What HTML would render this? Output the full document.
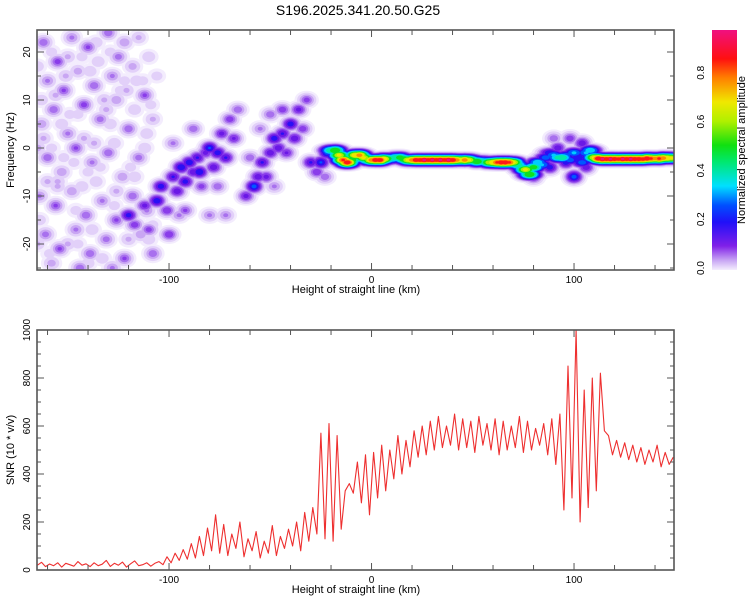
<!DOCTYPE html>
<html><head><meta charset="utf-8"><style>
html,body{margin:0;padding:0;background:#fff;}
svg{display:block;font-family:"Liberation Sans",sans-serif;}
</style></head><body>
<svg id="chart" width="750" height="600" viewBox="0 0 750 600">
<defs>
<clipPath id="clipTop"><rect x="37" y="30" width="637" height="240"/></clipPath>
<clipPath id="clipBot"><rect x="37" y="330" width="637" height="240"/></clipPath>
<linearGradient id="cbGrad" x1="0" y1="1" x2="0" y2="0">
<stop offset="0" stop-color="#f4eefd"/><stop offset="0.04" stop-color="#c8a6f4"/><stop offset="0.1" stop-color="#8020e8"/>
<stop offset="0.2" stop-color="#2010f8"/><stop offset="0.27" stop-color="#0050ff"/><stop offset="0.35" stop-color="#00e0ff"/>
<stop offset="0.45" stop-color="#00e870"/><stop offset="0.52" stop-color="#10e010"/><stop offset="0.62" stop-color="#b0f000"/>
<stop offset="0.7" stop-color="#f0e800"/><stop offset="0.8" stop-color="#ff8000"/><stop offset="0.88" stop-color="#ff1010"/>
<stop offset="1" stop-color="#f01080"/>
</linearGradient>
</defs>
<text x="358" y="15" font-size="14" text-anchor="middle">S196.2025.341.20.50.G25</text>
<g id="heat" clip-path="url(#clipTop)"></g>
<g id="snr" clip-path="url(#clipBot)"></g>
<g id="axes"></g>
<rect x="712" y="30" width="25" height="240" fill="url(#cbGrad)"/>
<text transform="translate(745,150) rotate(-90)" font-size="11" text-anchor="middle">Normalized spectral amplitude</text>
<text transform="translate(14,150) rotate(-90)" font-size="11" text-anchor="middle">Frequency (Hz)</text>
<text transform="translate(14,450) rotate(-90)" font-size="11" text-anchor="middle">SNR (10 * v/v)</text>
<text x="356" y="293" font-size="11" text-anchor="middle">Height of straight line (km)</text>
<text x="356" y="593" font-size="11" text-anchor="middle">Height of straight line (km)</text>
</svg>
<script>
// ---- data ----
const noiseKm=[-162,-155,-148,-140,-130,-122,-115,-160,-152,-145,-137,-128,-118,-110,-163,-157,-150,-142,-134,-126,-120,-112,-108,-160,-153,-146,-138,-130,-123,-115,-164,-156,-148,-141,-133,-126,-118,-111,-161,-154,-146,-139,-131,-122,-114,-108,-158,-144,-128,-150,-135,-125,-142,-127,-155,-136,-120,-133,-165,-165,-117,-132,-145,-158,-122,-112,-105,-106,-145,-140,
-165,-158,-151,-143,-136,-129,-121,-113,-163,-156,-149,-139,-131,-124,-116,-109,-162,-153,-147,-137,-129,-119,-111,-160,-152,-143,-134,-126,-117,-108,-164,-155,-146,-138,-127,-119,-110,-159,-150,-140];
const noiseHz=[22,18,23,21,24,22,23,14,12,16,13,15,17,19,5,8,3,9,6,10,4,11,6,-2,-5,0,-3,-1,-6,-2,-10,-12,-9,-14,-11,-15,-10,-13,-18,-21,-17,-22,-19,-23,-18,-22,-24,-25,-25,19,18,19,2,1,-8,-7,-19,-23,0,-20,8,10,-20,0,14,0,-8,15,7,-5,
17,20,15,19,22,20,12,14,10,11,7,16,8,12,14,9,2,5,-3,1,5,-4,3,-7,-2,-8,-4,-9,-6,-16,-15,-7,-13,-17,-12,-14,-19,-22,-20,-24];
const noiseAmp=[.12,.14,.10,.13,.12,.09,.07,.10,.13,.08,.12,.10,.08,.06,.09,.12,.10,.14,.11,.09,.12,.13,.07,.12,.09,.13,.10,.12,.09,.11,.10,.13,.09,.12,.10,.13,.12,.10,.11,.13,.10,.12,.11,.13,.09,.12,.08,.12,.10,.07,.06,.11,.07,.06,.07,.06,.07,.06,.08,.07,.06,.07,.05,.05,.05,.06,.05,.05,.05,.05,
.06,.05,.07,.05,.06,.05,.07,.05,.06,.07,.05,.06,.07,.05,.06,.05,.07,.06,.05,.07,.06,.05,.06,.07,.05,.06,.05,.07,.06,.05,.06,.07,.05,.06,.05,.07,.06,.05,.07,.06];
const blobKm=[-120,-117,-112,-110,-106,-104,-101,-100,-98,-96,-94,-92,-90,-88,-86,-85,-82,-80,-78,-76,-74,-72,-70,-68,-92,-84,-76,-98,-88,-66,-95,-80,
-62,-58,-56,-54,-52,-50,-48,-46,-44,-42,-40,-38,-36,-34,-32,-44,-50,-60,-55,-48,-72,
-30,-27,-25,-22,-23,
88,92,96,100,104,98,90,106,80];
const blobHz=[-14,-16,-12,-17,-11,-8,-13,-18,-6,-9,-4,-7,-3,-5,-2,-5,-1,0,-4,-1,3,-2,6,2,-13,-8,-8,1,4,8,-14,-14,
-10,-8,-6,-3,-6,-1,2,0,3,-1,5,2,8,4,10,8,7,-2,4,-8,-14,
-3,-5,-3,-1,-6,
-4,0,-3,-6,1,2,2,-4,-6];
const blobAmp=[.24,.15,.18,.14,.26,.25,.16,.16,.22,.2,.27,.24,.26,.2,.22,.27,.18,.28,.2,.25,.18,.22,.15,.17,.13,.14,.12,.1,.12,.12,.1,.1,
.18,.3,.2,.22,.18,.2,.25,.2,.22,.17,.25,.2,.18,.15,.14,.15,.12,.12,.1,.1,.1,
.22,.16,.28,.3,.12,
.25,.2,.25,.3,.2,.15,.12,.2,.2];
const ridgeKm=[-20,-18,-16,-14,-12,-10,-8,-6,-4,-2,0,2,4,6,8,10,12,14,16,18,20,22,24,26,28,30,32,34,36,38,40,42,44,46,48,50,52,54,56,58,60,62,64,66,68,70,72,74,76,78,80,82,84,86,88,90,92,94,96,98,100,102,104,106,108,110,112,114,116,118,120,122,124,126,128,130,132,134,136,138,140,142,144,146,148];
const ridgeHz=[-0.5,-0.5,-1.5,-2.5,-3,-2.5,-1.5,-1.5,-2,-2.5,-2.5,-2.5,-2.5,-2.3,-2.2,-2.2,-2,-2,-2.3,-2.5,-2.5,-2.5,-2.5,-2.5,-2.5,-2.5,-2.5,-2.5,-2.5,-2.5,-2.5,-2.5,-2.5,-2.5,-2.5,-2.6,-2.8,-2.8,-2.8,-3,-3,-3,-3,-3,-3,-3,-3.5,-4,-4.5,-5.5,-4,-3,-3.5,-2,-1,-1.5,-2,-2,-1.5,-2.5,-1,-2,-3,-1,-0.5,-2,-2.2,-2.3,-2.3,-2.3,-2.3,-2.3,-2.3,-2.3,-2.3,-2.3,-2.3,-2.3,-2.2,-2.2,-2.2,-2.2,-2.1,-2.1,-2.1];
const ridgeAmp=[.5,.6,.7,.85,.9,.6,.75,.8,.7,.55,.8,.9,.9,.75,.55,.45,.5,.55,.6,.7,.8,.9,.9,.92,.9,.92,.9,.92,.9,.92,.9,.8,.75,.8,.7,.55,.6,.5,.45,.65,.75,.85,.9,.9,.85,.7,.5,.45,.7,.6,.55,.4,.35,.3,.25,.35,.45,.5,.3,.3,.35,.25,.3,.35,.4,.7,.9,.92,.9,.92,.9,.88,.92,.9,.92,.9,.9,.88,.9,.85,.8,.85,.8,.75,.7];
const snrValues=[20,32,14,25,18,30,12,28,22,16,35,20,26,14,30,18,24,40,15,28,20,33,12,26,38,18,22,30,16,28,
35,22,55,30,70,40,85,45,
110,50,140,60,175,80,230,70,190,60,150,90,200,55,130,
80,160,50,120,70,185,60,140,90,170,
100,200,80,240,120,260,
150,570,130,610,120,560,170,
330,360,320,450,280,
480,230,490,300,
520,330,500,380,560,400,540,430,580,470,600,480,
620,500,640,510,600,520,650,500,630,510,620,490,640,520,610,500,630,480,620,500,600,510,640,490,620,500,590,520,610,480,630,440,
650,250,850,300,1000,200,750,260,800,330,820,580,
560,480,540,470,530,460,520,450,510,440,500,450,520,430,490,440,470];
const snrStartKm=-165, snrStepKm=2;
const xTicks=[-160,-140,-120,-100,-80,-60,-40,-20,0,20,40,60,80,100,120,140];
const xLabels=[-100,0,100];
const hzTicks=[-25,-20,-15,-10,-5,0,5,10,15,20];
const hzLabels=[-20,-10,0,10,20];
const snrTicks=[0,50,100,150,200,250,300,350,400,450,500,550,600,650,700,750,800,850,900,950,1000];
const snrLabels=[0,200,400,600,800,1000];
const cbLabels=[0.0,0.2,0.4,0.6,0.8];

// ---- scales ----
const NS='http://www.w3.org/2000/svg';
const L=37,R=674;
const xS=km=>L+(km+165.2)*2.025;
const yHz=hz=>148-hz*4.8;
const ySnr=v=>570-v*0.24;
const cbY=v=>268-v*244;
function mk(tag,attrs,parent){const e=document.createElementNS(NS,tag);for(const k in attrs)e.setAttribute(k,attrs[k]);parent.appendChild(e);return e;}

// ---- heatmap ----
const levels=[0.012,0.03,0.06,0.09,0.12,0.16,0.21,0.27,0.34,0.42,0.5,0.6,0.68,0.76,0.84,0.91];
const lvColors=['#f3ecfd','#e2d0f9','#c9a6f3','#a870ee','#8a3cea','#6a18e6','#2a10f4','#0058ff','#00ccff','#00eaa8','#10e020','#a8f000','#f0e400','#ff8a00','#ff1818','#f0107a'];
const heat=document.getElementById('heat');
const items=[];
for(let i=0;i<noiseKm.length;i++)items.push({km:noiseKm[i],hz:noiseHz[i],a:noiseAmp[i],sx:5.5,sy:4.5,b:0});
for(let i=0;i<blobKm.length;i++)items.push({km:blobKm[i],hz:blobHz[i],a:blobAmp[i],sx:5.5,sy:4.2,b:0});
for(let i=0;i<ridgeKm.length;i++)items.push({km:ridgeKm[i],hz:ridgeHz[i],a:ridgeAmp[i],sx:7,sy:3,b:0.8});
levels.forEach((lv,li)=>{
  items.forEach(it=>{
    if(it.a<=lv)return;
    const f=Math.sqrt(2*Math.log(it.a/lv));
    const e=mk('ellipse',{cx:xS(it.km),cy:yHz(it.hz),rx:it.sx*f+it.b,ry:it.sy*f+it.b,fill:lvColors[li]},heat);
    
    
  });
});

// ---- SNR line ----
const snr=document.getElementById('snr');
let d='';
snrValues.forEach((v,i)=>{const km=snrStartKm+i*snrStepKm;d+=(i?'L':'M')+xS(km).toFixed(1)+' '+ySnr(v).toFixed(1);});
const line=mk('path',{d:d,fill:'none',stroke:'#ee2f2f','stroke-width':1.1,'stroke-linejoin':'round'},snr);



// ---- axes ----
const ax=document.getElementById('axes');
function frame(T,B,name){const r=mk('rect',{x:L,y:T,width:R-L,height:B-T,fill:'none',stroke:'#555','stroke-width':1.6},ax);}
function panel(T,B,yf,yt,yl,fmtY,pre){
  frame(T,B,pre+'-frame');
  xTicks.forEach(t=>{const x=xS(t);const len=xLabels.includes(t)?7:5;
    mk('line',{x1:x,y1:B,x2:x,y2:B-len,stroke:'#555'},ax);mk('line',{x1:x,y1:T,x2:x,y2:T+len,stroke:'#555'},ax);});
  xLabels.forEach(t=>{const tx=mk('text',{x:xS(t),y:B+13,'font-size':10,'text-anchor':'middle'},ax);tx.textContent=String(t);
    });
  yt.forEach(t=>{const y=yf(t);const len=yl.includes(t)?7:4;
    mk('line',{x1:L,y1:y,x2:L+len,y2:y,stroke:'#555'},ax);mk('line',{x1:R,y1:y,x2:R-len,y2:y,stroke:'#555'},ax);});
  yl.forEach(t=>{const y=yf(t);const tx=mk('text',{transform:`translate(30,${y}) rotate(-90)`,'font-size':10,'text-anchor':'middle'},ax);tx.textContent=fmtY(t);
    });
}
panel(30,270,yHz,hzTicks,hzLabels,t=>String(t),'top');
panel(330,570,ySnr,snrTicks,snrLabels,t=>String(t),'bottom');
cbLabels.forEach(v=>{const y=cbY(v);const tx=mk('text',{transform:`translate(704,${y}) rotate(-90)`,'font-size':10,'text-anchor':'middle'},ax);tx.textContent=v.toFixed(1);
  });
</script>
</body></html>
